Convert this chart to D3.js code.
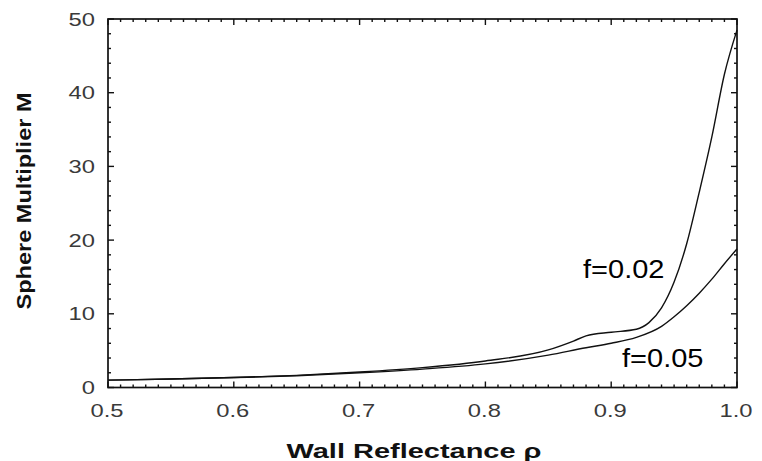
<!DOCTYPE html>
<html>
<head>
<meta charset="utf-8">
<script src="https://cdn.jsdelivr.net/npm/d3@7"></script>
<style>
  body { margin: 0; background: #fff; }
  svg { font-family: "Liberation Sans", Arial, sans-serif; }
  .tickLabel { font-size: 19px; fill: #3a3a3a; }
  .axisTitle { font-size: 20px; font-weight: bold; fill: #111; }
  .curveLabel { font-size: 25px; fill: #000; }
</style>
</head>
<body>
<svg id="chart" width="762" height="461"></svg>
<script>
// reflectance values
var rho02 = [0.50, 0.55, 0.60, 0.65, 0.70, 0.75, 0.80, 0.85, 0.87, 0.88, 0.90, 0.92, 0.93, 0.94, 0.95, 0.96, 0.97, 0.98, 0.99, 1.00];
var m02   = [1.0, 1.15, 1.35, 1.65, 2.1, 2.7, 3.6, 5.1, 6.3, 7.0, 7.5, 7.9, 8.8, 10.8, 14.3, 19.5, 26.5, 34, 42.5, 48.5];

var rho05 = [0.50, 0.55, 0.60, 0.65, 0.70, 0.75, 0.80, 0.85, 0.88, 0.90, 0.92, 0.94, 0.95, 0.96, 0.97, 0.98, 0.99, 1.00];
var m05   = [1.0, 1.15, 1.35, 1.6, 2.0, 2.5, 3.2, 4.4, 5.4, 6.0, 6.8, 8.3, 9.6, 11.1, 12.8, 14.7, 16.8, 18.8];

var xTicks = [0.5, 0.6, 0.7, 0.8, 0.9, 1.0];
var yTicks = [0, 10, 20, 30, 40, 50];

var labels = [
    {text: "f=0.02", x: 0.8776, y: 14.9},
    {text: "f=0.05", x: 0.9086, y: 2.8}
];

var svg = d3.select("#chart");
var pLeft = 108, pRight = 737, pTop = 19, pBottom = 387.5;
var stretch = 1.25;   // the original text looks widened

var x = d3.scaleLinear().domain([0.5, 1.0]).range([pLeft, pRight]);
var y = d3.scaleLinear().domain([0, 50]).range([pBottom, pTop]);

// widen a text selection by a factor
function widen(sel, k){
    sel.each(function(){
        var len = this.getComputedTextLength();
        d3.select(this).attr("textLength", len * k).attr("lengthAdjust", "spacingAndGlyphs");
    });
}

// frame
svg.append("rect")
    .attr("x", pLeft).attr("y", pTop)
    .attr("width", pRight - pLeft).attr("height", pBottom - pTop)
    .attr("fill", "none").attr("stroke", "#111").attr("stroke-width", 1.7);

// ticks pointing inwards on all four sides
var xMinor = d3.range(50, 101).map(function(d){ return d / 100; });
var yMinor = d3.range(0, 51, 2);

function isMajorX(v){ return Math.abs(v * 10 - Math.round(v * 10)) < 1e-6; }

xMinor.forEach(function(v){
    var len = isMajorX(v) ? 6 : 3;
    svg.append("line").attr("x1", x(v)).attr("x2", x(v))
        .attr("y1", pBottom).attr("y2", pBottom - len)
        .attr("stroke", "#111").attr("stroke-width", 1.4);
    svg.append("line").attr("x1", x(v)).attr("x2", x(v))
        .attr("y1", pTop).attr("y2", pTop + len)
        .attr("stroke", "#111").attr("stroke-width", 1.4);
});

yMinor.forEach(function(v){
    var len = (v % 10 == 0) ? 6 : 3;
    svg.append("line").attr("x1", pLeft).attr("x2", pLeft + len)
        .attr("y1", y(v)).attr("y2", y(v))
        .attr("stroke", "#111").attr("stroke-width", 1.4);
    svg.append("line").attr("x1", pRight).attr("x2", pRight - len)
        .attr("y1", y(v)).attr("y2", y(v))
        .attr("stroke", "#111").attr("stroke-width", 1.4);
});

// tick labels
svg.selectAll(".xLab").data(xTicks).enter().append("text")
    .attr("class", "tickLabel xLab")
    .attr("x", function(d){ return x(d) - 1; })
    .attr("y", 417)
    .attr("text-anchor", "middle")
    .text(function(d){ return d.toFixed(1); })
    .call(widen, stretch);

svg.selectAll(".yLab").data(yTicks).enter().append("text")
    .attr("class", "tickLabel yLab")
    .attr("x", 95)
    .attr("y", function(d){ return y(d) + 6.5; })
    .attr("text-anchor", "end")
    .text(function(d){ return d; })
    .call(widen, stretch);

// axis titles
svg.append("text")
    .attr("class", "axisTitle")
    .attr("x", 414).attr("y", 458)
    .attr("text-anchor", "middle")
    .attr("textLength", 255).attr("lengthAdjust", "spacingAndGlyphs")
    .text("Wall Reflectance ρ");

svg.append("text")
    .attr("class", "axisTitle")
    .attr("transform", "translate(31,201) rotate(-90)")
    .attr("text-anchor", "middle")
    .attr("textLength", 217).attr("lengthAdjust", "spacingAndGlyphs")
    .text("Sphere Multiplier M");

// curves
var line = d3.line()
    .x(function(d){ return x(d[0]); })
    .y(function(d){ return y(d[1]); })
    .curve(d3.curveMonotoneX);

svg.append("path")
    .datum(d3.zip(rho02, m02))
    .attr("d", line)
    .attr("fill", "none").attr("stroke", "#111").attr("stroke-width", 1.4);

svg.append("path")
    .datum(d3.zip(rho05, m05))
    .attr("d", line)
    .attr("fill", "none").attr("stroke", "#111").attr("stroke-width", 1.4);

// curve labels
svg.selectAll(".curveLabel").data(labels).enter().append("text")
    .attr("class", "curveLabel")
    .attr("x", function(d){ return x(d.x); })
    .attr("y", function(d){ return y(d.y); })
    .text(function(d){ return d.text; })
    .call(widen, 1.16);
</script>
</body>
</html>
